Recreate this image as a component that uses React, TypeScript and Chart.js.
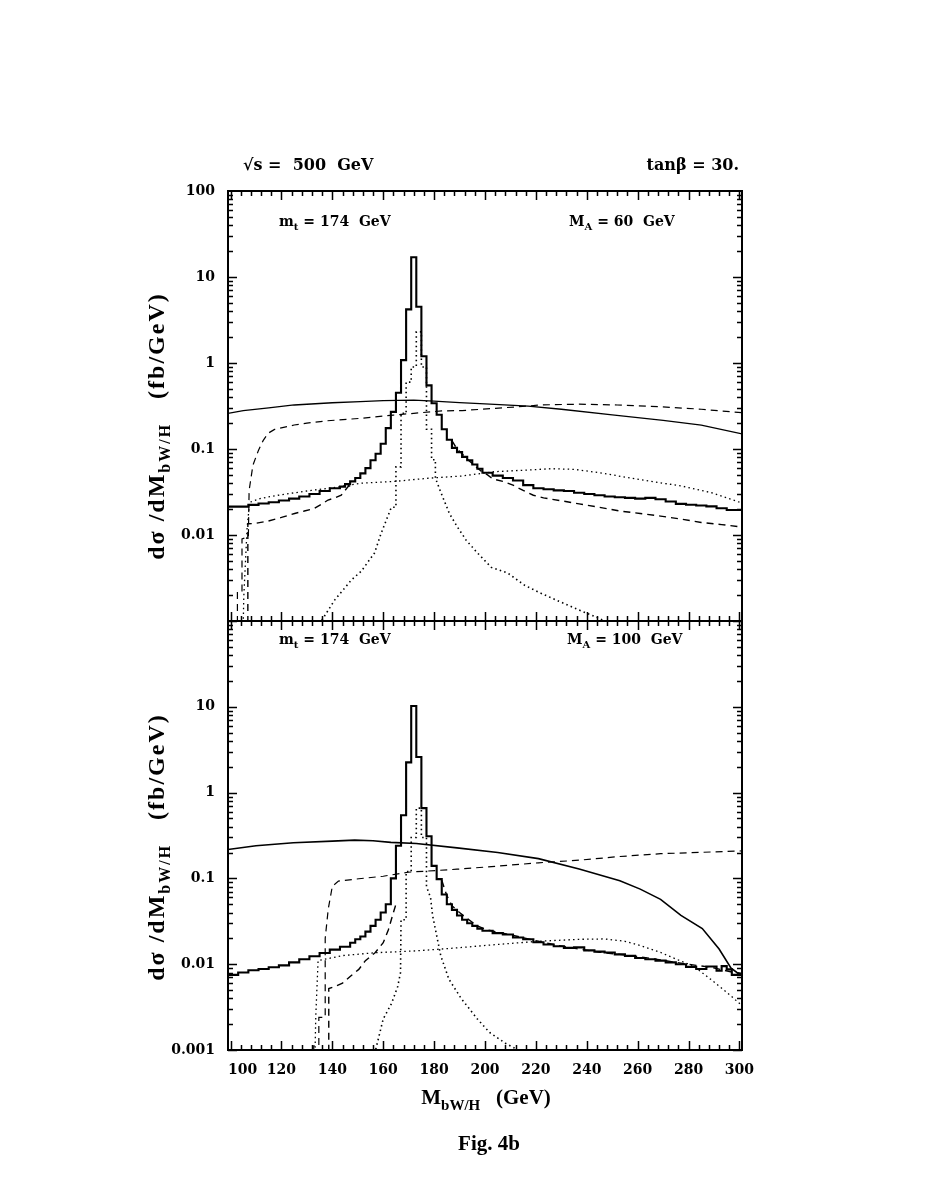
import React, { useEffect, useRef } from "react";
import { Chart, registerables } from "chart.js";

Chart.register(...registerables);

// ---------------- axis ranges & tick labels ----------------
const X_MIN = 99;
const X_MAX = 301;
const Y_MIN = 0.001;
const Y_MAX = 100;
const xLabelValues = [100, 120, 140, 160, 180, 200, 220, 240, 260, 280, 300];
const topYLabels = [100, 10, 1, 0.1, 0.01];
const bottomYLabels = [10, 1, 0.1, 0.01, 0.001];

// ================= TOP PANEL (M_A = 60 GeV) =================
// thick solid histogram (bin edges / bin contents)
const topSolidEdges = [99, 107, 111, 115, 119, 123, 127, 131, 135, 139, 143, 145, 147, 149, 151, 153, 155, 157, 159, 161, 163, 165, 167, 169, 171, 173, 175, 177, 179, 181, 183, 185, 187, 189, 191, 193, 195, 197, 199, 203, 207, 211, 215, 219, 223, 227, 231, 235, 239, 243, 247, 251, 255, 259, 263, 267, 271, 275, 279, 283, 287, 291, 295, 299, 301];
const topSolidVals = [0.0195, 0.0214, 0.0224, 0.0232, 0.024, 0.0252, 0.0265, 0.028, 0.03, 0.0325, 0.035, 0.0365, 0.039, 0.042, 0.046, 0.052, 0.06, 0.074, 0.088, 0.115, 0.175, 0.27, 0.45, 1.08, 4.2, 17, 4.5, 1.2, 0.55, 0.34, 0.25, 0.17, 0.128, 0.103, 0.092, 0.081, 0.074, 0.066, 0.059, 0.053, 0.049, 0.046, 0.043, 0.038, 0.035, 0.034, 0.033, 0.0325, 0.031, 0.03, 0.029, 0.028, 0.0275, 0.027, 0.0265, 0.027, 0.026, 0.0245, 0.023, 0.0225, 0.022, 0.0215, 0.0205, 0.0195];

// thin solid smooth curve
const topThinX = [99, 105, 115, 125, 140, 151, 160, 172, 180, 190, 200, 217, 230, 250, 270, 285, 301];
const topThinY = [0.26, 0.28, 0.3, 0.325, 0.345, 0.355, 0.365, 0.37, 0.36, 0.347, 0.335, 0.316, 0.29, 0.25, 0.215, 0.19, 0.15];

// upper dashed smooth curve (threshold near 103 GeV)
const topDashUpX = [102.7, 102.7, 104.5, 104.5, 107, 107.3, 108.8, 111, 112.8, 114.7, 117.3, 125, 130, 138, 151, 164, 172, 183, 191, 204, 217, 221, 237, 252, 269, 285, 301];
const topDashUpY = [0.0005, 0.0022, 0.0022, 0.009, 0.0095, 0.033, 0.065, 0.097, 0.125, 0.152, 0.169, 0.19, 0.2, 0.213, 0.227, 0.248, 0.26, 0.277, 0.28, 0.297, 0.316, 0.325, 0.332, 0.325, 0.31, 0.29, 0.264];

// lower dashed peaked curve (wings; coincides with solid near the peak)
const topDashLowX = [106.8, 106.8, 109.5, 114.7, 120, 125.2, 129, 133, 136, 138.3, 141, 143.5, 146.2, 148, 170, 187, 189, 191, 193, 195, 197, 199, 201, 203, 207, 211, 215, 219, 223, 230, 237, 245, 253, 261, 269, 277, 285, 293, 301, 304.5];
const topDashLowY = [0.0005, 0.0135, 0.0136, 0.0145, 0.016, 0.0178, 0.019, 0.0204, 0.023, 0.0255, 0.027, 0.029, 0.0365, 0.039, null, 0.125, 0.1, 0.088, 0.076, 0.068, 0.06, 0.054, 0.05, 0.045, 0.042, 0.038, 0.033, 0.029, 0.027, 0.025, 0.023, 0.021, 0.019, 0.0178, 0.0166, 0.0153, 0.014, 0.0132, 0.0124, 0.0112];

// dotted smooth curve
const topDotSmoothX = [104.8, 105.2, 106.5, 107.5, 112, 118.6, 131.7, 142, 151.4, 164.5, 177.6, 190.7, 203.8, 216.9, 226, 235, 245, 261, 277.5, 289, 301];
const topDotSmoothY = [0.0005, 0.0019, 0.012, 0.024, 0.0267, 0.029, 0.033, 0.036, 0.04, 0.042, 0.0457, 0.0485, 0.0545, 0.057, 0.059, 0.058, 0.053, 0.044, 0.037, 0.031, 0.0235];

// dotted peaked curve
const topDotPeakX = [135, 135.7, 140.9, 147.5, 151.4, 156.6, 159.2, 163.2, 165, 165, 167, 167, 169, 169, 171, 171, 173, 173, 175, 175, 177, 177, 179, 179, 180.5, 180.5, 182.8, 186, 189, 192.6, 197, 202.5, 209, 215.6, 222, 229, 237, 245, 250];
const topDotPeakY = [0.0008, 0.001, 0.00175, 0.003, 0.0038, 0.0062, 0.0105, 0.021, 0.021, 0.062, 0.062, 0.26, 0.26, 0.6, 0.6, 0.9, 0.9, 2.3, 2.3, 0.9, 0.9, 0.17, 0.17, 0.075, 0.075, 0.046, 0.0305, 0.0178, 0.0126, 0.0087, 0.0062, 0.0042, 0.0036, 0.0026, 0.0021, 0.0017, 0.00134, 0.00107, 0.0009];

// ================= BOTTOM PANEL (M_A = 100 GeV) =================
const botSolidEdges = [99, 103, 107, 111, 115, 119, 123, 127, 131, 135, 139, 143, 147, 149, 151, 153, 155, 157, 159, 161, 163, 165, 167, 169, 171, 173, 175, 177, 179, 181, 183, 185, 187, 189, 191, 193, 195, 197, 199, 203, 207, 211, 215, 219, 223, 227, 231, 235, 239, 243, 247, 251, 255, 259, 263, 267, 271, 275, 279, 283, 287, 291, 293, 295, 297, 299, 301];
const botSolidVals = [0.0067, 0.0075, 0.008, 0.0085, 0.0088, 0.0092, 0.0097, 0.0105, 0.0114, 0.0124, 0.0135, 0.0148, 0.016, 0.0178, 0.0195, 0.021, 0.024, 0.028, 0.033, 0.04, 0.05, 0.1, 0.24, 0.545, 2.25, 10.2, 2.6, 0.66, 0.31, 0.14, 0.098, 0.065, 0.05, 0.043, 0.037, 0.033, 0.03, 0.028, 0.026, 0.0245, 0.023, 0.0222, 0.0205, 0.0195, 0.018, 0.017, 0.0162, 0.0155, 0.0157, 0.0145, 0.014, 0.0137, 0.013, 0.0125, 0.0118, 0.0114, 0.011, 0.0105, 0.01, 0.0093, 0.0088, 0.0094, 0.0084, 0.0095, 0.0087, 0.0075];

const botThinX = [99, 110, 124.7, 140, 148.8, 156, 163, 173, 189, 205, 221, 237, 253, 261, 269, 277, 285.4, 292, 296.7, 299, 301];
const botThinY = [0.217, 0.24, 0.26, 0.272, 0.279, 0.275, 0.263, 0.255, 0.227, 0.2, 0.17, 0.129, 0.094, 0.075, 0.057, 0.037, 0.026, 0.015, 0.009, 0.008, 0.0075];

const botDashUpX = [132.7, 132.7, 134.7, 134.7, 137.2, 137.2, 138.4, 140, 142.4, 150.4, 160, 169.7, 189, 205, 221, 237, 253, 269, 301];
const botDashUpY = [0.0005, 0.00112, 0.00112, 0.0024, 0.0024, 0.02, 0.044, 0.081, 0.093, 0.099, 0.106, 0.118, 0.128, 0.139, 0.152, 0.163, 0.18, 0.194, 0.209];

const botDashLowX = [138.6, 138.6, 141, 144, 147, 150.4, 153, 156.8, 160, 162, 164, 165, 174, 183, 185, 187, 190, 193, 197, 201, 207, 213, 221, 229, 237, 245, 253, 261, 269, 277, 283, 289, 293, 297, 301];
const botDashLowY = [0.0005, 0.0052, 0.0055, 0.006, 0.0072, 0.0087, 0.011, 0.0136, 0.0178, 0.025, 0.04, 0.05, null, 0.095, 0.063, 0.048, 0.04, 0.034, 0.028, 0.025, 0.023, 0.021, 0.0185, 0.0165, 0.015, 0.0138, 0.013, 0.0122, 0.0112, 0.0103, 0.0097, 0.0092, 0.0086, 0.0081, 0.0078];

const botDotSmoothX = [133, 133.5, 134.4, 144, 156.8, 173, 189, 205, 221, 237, 247, 255, 261, 269, 275, 282, 288.6, 295, 301];
const botDotSmoothY = [0.0005, 0.0025, 0.011, 0.0126, 0.0136, 0.0143, 0.0155, 0.017, 0.0185, 0.0195, 0.0197, 0.0185, 0.0165, 0.0137, 0.0115, 0.0095, 0.0067, 0.0047, 0.0033];

const botDotPeakX = [156, 157, 160, 163.3, 165.7, 166.8, 167, 169, 169, 171, 171, 173, 173, 175, 175, 177, 177, 178.6, 179.4, 182.6, 185.8, 190.6, 197, 201.8, 208, 213, 216];
const botDotPeakY = [0.0008, 0.001, 0.0023, 0.0035, 0.0055, 0.008, 0.033, 0.033, 0.12, 0.12, 0.3, 0.3, 0.66, 0.66, 0.3, 0.3, 0.08, 0.06, 0.037, 0.0126, 0.0067, 0.004, 0.0023, 0.0016, 0.0012, 0.001, 0.0008];

// ---------------- helpers ----------------
type P = { x: number; y: number | null };
const pts = (xs: number[], ys: (number | null)[]): P[] => xs.map((x, i) => ({ x, y: ys[i] }));
const hist = (edges: number[], vals: number[]): P[] => {
  const out: P[] = vals.map((v, i) => ({ x: edges[i], y: v }));
  out.push({ x: edges[vals.length], y: vals[vals.length - 1] });
  return out;
};

const DASH = [7, 5];
const DOT = [1.5, 3.2];

const line = (data: P[], width: number, dash: number[], extra: any = {}) => ({
  data,
  borderColor: "#000",
  borderWidth: width,
  borderDash: dash,
  pointRadius: 0,
  fill: false,
  tension: 0,
  spanGaps: false,
  ...extra,
});

const isDecade = (v: number) => Math.abs(Math.log10(v) - Math.round(Math.log10(v))) < 1e-6;
const fmt = (v: number) => {
  const e = Math.round(Math.log10(v));
  return e >= 0 ? String(Math.pow(10, e)) : "0." + "0".repeat(-e - 1) + "1";
};

const frameTicks = {
  id: "frameTicks",
  afterDatasetsDraw(chart: any) {
    const { ctx, chartArea: a, scales } = chart;
    const x = scales.x;
    const y = scales.y;
    ctx.save();
    ctx.strokeStyle = "#000";
    ctx.lineWidth = 1.5;
    ctx.beginPath();
    for (let e = -3; e <= 1; e++) {
      for (let m = 1; m <= 9; m++) {
        const v = m * Math.pow(10, e);
        const py = Math.round(y.getPixelForValue(v)) + 0.5;
        const len = m === 1 ? 9 : 5;
        ctx.moveTo(a.left, py);
        ctx.lineTo(a.left + len, py);
        ctx.moveTo(a.right, py);
        ctx.lineTo(a.right - len, py);
      }
    }
    for (let v = 100; v <= 300; v += 4) {
      const px = Math.round(x.getPixelForValue(v)) + 0.5;
      const len = v % 20 === 0 ? 9 : 5;
      ctx.moveTo(px, a.top);
      ctx.lineTo(px, a.top + len);
      ctx.moveTo(px, a.bottom);
      ctx.lineTo(px, a.bottom - len);
    }
    ctx.stroke();
    ctx.lineWidth = 2;
    ctx.strokeRect(a.left, a.top, a.right - a.left, a.bottom - a.top);
    ctx.restore();
  },
};

const TICK_FONT = { family: "'DejaVu Serif'", size: 14, weight: "bold" as const };

function makeOptions(top: boolean) {
  const labels = top ? topYLabels : bottomYLabels;
  return {
    animation: false,
    responsive: false,
    maintainAspectRatio: false,
    events: [],
    layout: top
      ? { padding: { left: 158, right: 185, top: 191, bottom: 578 } }
      : { padding: { left: 158, right: 185, top: 621, bottom: 99 } },
    plugins: { legend: { display: false }, tooltip: { enabled: false }, title: { display: false } },
    scales: {
      x: {
        type: "linear",
        min: X_MIN,
        max: X_MAX,
        display: !top,
        grid: { display: false, drawTicks: false },
        border: { display: false },
        afterBuildTicks: (s: any) => {
          s.ticks = xLabelValues.map((v) => ({ value: v }));
        },
        afterFit: (s: any) => {
          s.height = top ? 0 : 50;
          s.paddingLeft = 0;
          s.paddingRight = 0;
        },
        ticks: {
          autoSkip: false,
          maxRotation: 0,
          padding: 12,
          color: "#000",
          font: TICK_FONT,
          // the first label is nudged right (as in the original) so it clears the 0.001 label
          callback: (v: any, i: number) => (i === 0 ? "     " + String(v) : String(v)),
        },
      },
      y: {
        type: "logarithmic",
        min: Y_MIN,
        max: Y_MAX,
        grid: { display: false, drawTicks: false },
        border: { display: false },
        afterFit: (s: any) => {
          s.width = 70;
          s.paddingTop = 0;
          s.paddingBottom = 0;
        },
        ticks: {
          autoSkip: false,
          padding: 13,
          color: "#000",
          font: TICK_FONT,
          callback: (v: any) => {
            const n = Number(v);
            if (!isDecade(n)) return "";
            return labels.some((l) => Math.abs(Math.log10(l) - Math.log10(n)) < 1e-6) ? fmt(n) : "";
          },
        },
      },
    },
  } as any;
}

function topDatasets() {
  return [
    line(pts(topThinX, topThinY), 1.3, []),
    line(pts(topDashUpX, topDashUpY), 1.2, DASH),
    line(pts(topDashLowX, topDashLowY), 1.4, DASH, { clip: { left: 0, top: 0, right: 14, bottom: 0 } }),
    line(pts(topDotSmoothX, topDotSmoothY), 1.3, DOT),
    line(pts(topDotPeakX, topDotPeakY), 1.6, DOT),
    line(hist(topSolidEdges, topSolidVals), 2.1, [], { stepped: "after" }),
  ];
}

function bottomDatasets() {
  return [
    line(pts(botThinX, botThinY), 1.6, []),
    line(pts(botDashUpX, botDashUpY), 1.2, DASH),
    line(pts(botDashLowX, botDashLowY), 1.4, DASH),
    line(pts(botDotSmoothX, botDotSmoothY), 1.3, DOT),
    line(pts(botDotPeakX, botDotPeakY), 1.6, DOT),
    line(hist(botSolidEdges, botSolidVals), 2.1, [], { stepped: "after" }),
  ];
}

const W = 927;
const H = 1199;

const txtBase: React.CSSProperties = {
  position: "absolute",
  fontFamily: "'DejaVu Serif', serif",
  fontWeight: "bold",
  fontSize: 14,
  lineHeight: 1,
  whiteSpace: "pre",
  color: "#000",
  transform: "translateY(-50%)",
};
const subStyle: React.CSSProperties = { fontSize: 10, verticalAlign: -4, lineHeight: 0 };

function YTitle({ cx, cy }: { cx: number; cy: number }) {
  return (
    <div
      style={{
        position: "absolute",
        left: cx,
        top: cy,
        transform: "translate(-50%, -50%) rotate(-90deg)",
        fontFamily: "'Liberation Serif', serif",
        fontWeight: "bold",
        fontSize: 24,
        lineHeight: 1,
        whiteSpace: "pre",
        letterSpacing: 2,
        color: "#000",
      }}
    >
      dσ /dM<span style={{ fontSize: 16, verticalAlign: -6, lineHeight: 0 }}>bW/H</span>
      {"   (fb/GeV)"}
    </div>
  );
}

export default function App() {
  const topRef = useRef<HTMLCanvasElement | null>(null);
  const botRef = useRef<HTMLCanvasElement | null>(null);

  useEffect(() => {
    const c1 = new Chart(topRef.current as HTMLCanvasElement, {
      type: "line",
      data: { datasets: topDatasets() as any },
      options: makeOptions(true),
      plugins: [frameTicks],
    } as any);
    const c2 = new Chart(botRef.current as HTMLCanvasElement, {
      type: "line",
      data: { datasets: bottomDatasets() as any },
      options: makeOptions(false),
      plugins: [frameTicks],
    } as any);
    return () => {
      c1.destroy();
      c2.destroy();
    };
  }, []);

  return (
    <div style={{ position: "absolute", left: 0, top: 0, width: W, height: H, background: "#fff", overflow: "hidden" }}>
      <canvas ref={topRef} width={W} height={H} style={{ position: "absolute", left: 0, top: 0, width: W, height: H }} />
      <canvas ref={botRef} width={W} height={H} style={{ position: "absolute", left: 0, top: 0, width: W, height: H }} />

      <div style={{ ...txtBase, left: 243, top: 165, fontSize: 16 }}>{"√s =  500  GeV"}</div>
      <div style={{ ...txtBase, right: 188, top: 165, fontSize: 16 }}>{"tanβ = 30."}</div>

      <div style={{ ...txtBase, left: 279, top: 221 }}>
        m<span style={subStyle}>t</span>
        {" = 174  GeV"}
      </div>
      <div style={{ ...txtBase, left: 569, top: 221 }}>
        M<span style={subStyle}>A</span>
        {" = 60  GeV"}
      </div>
      <div style={{ ...txtBase, left: 279, top: 639 }}>
        m<span style={subStyle}>t</span>
        {" = 174  GeV"}
      </div>
      <div style={{ ...txtBase, left: 567, top: 639 }}>
        M<span style={subStyle}>A</span>
        {" = 100  GeV"}
      </div>

      <YTitle cx={156} cy={426} />
      <YTitle cx={156} cy={847} />

      <div
        style={{
          position: "absolute",
          left: 486,
          top: 1097,
          transform: "translate(-50%, -50%)",
          fontFamily: "'Liberation Serif', serif",
          fontWeight: "bold",
          fontSize: 21,
          lineHeight: 1,
          whiteSpace: "pre",
          color: "#000",
        }}
      >
        M<span style={{ fontSize: 15, verticalAlign: -6, lineHeight: 0 }}>bW/H</span>
        {"   (GeV)"}
      </div>
      <div
        style={{
          position: "absolute",
          left: 489,
          top: 1143,
          transform: "translate(-50%, -50%)",
          fontFamily: "'Liberation Serif', serif",
          fontWeight: "bold",
          fontSize: 21,
          lineHeight: 1,
          whiteSpace: "pre",
          color: "#000",
        }}
      >
        Fig. 4b
      </div>
    </div>
  );
}
